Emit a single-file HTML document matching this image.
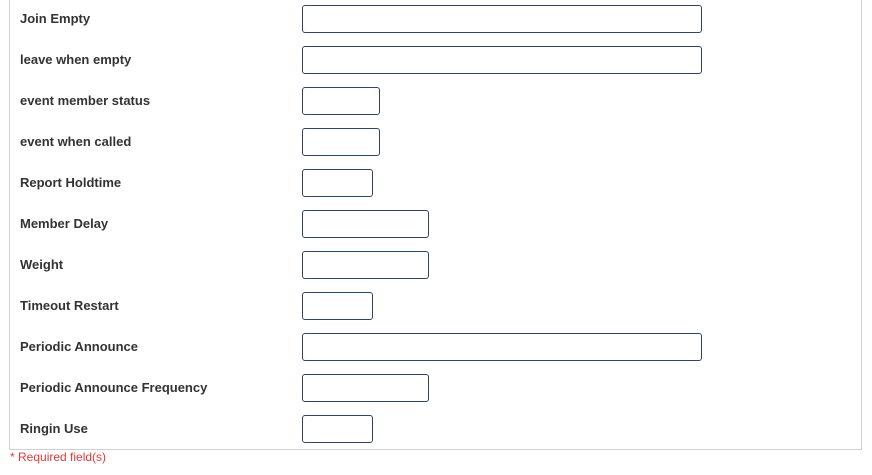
<!DOCTYPE html>
<html><head><meta charset="utf-8"><style>
html,body{margin:0;padding:0;background:#fff;width:872px;height:475px;overflow:hidden;font-family:"Liberation Sans",Arial,sans-serif}
.panel{position:absolute;left:9px;top:-2px;width:853px;height:452px;border:1px solid #d0d0d0;box-sizing:border-box}
.l{position:absolute;left:20px;font-size:13px;font-weight:bold;color:#333;line-height:16px}
.i{position:absolute;left:302px;height:28px;border:1px solid #2f4560;border-radius:3px;box-sizing:border-box;background:#fff}
.req{position:absolute;left:10px;top:450px;font-size:12px;color:#e03a3a;line-height:14px}
</style></head><body>
<div class="panel"></div>
<div class="l" style="top:11px">Join Empty</div><div class="i" style="top:5px;width:400px"></div>
<div class="l" style="top:52px">leave when empty</div><div class="i" style="top:46px;width:400px"></div>
<div class="l" style="top:93px">event member status</div><div class="i" style="top:87px;width:78px"></div>
<div class="l" style="top:134px">event when called</div><div class="i" style="top:128px;width:78px"></div>
<div class="l" style="top:175px">Report Holdtime</div><div class="i" style="top:169px;width:71px"></div>
<div class="l" style="top:216px">Member Delay</div><div class="i" style="top:210px;width:127px"></div>
<div class="l" style="top:257px">Weight</div><div class="i" style="top:251px;width:127px"></div>
<div class="l" style="top:298px">Timeout Restart</div><div class="i" style="top:292px;width:71px"></div>
<div class="l" style="top:339px">Periodic Announce</div><div class="i" style="top:333px;width:400px"></div>
<div class="l" style="top:380px">Periodic Announce Frequency</div><div class="i" style="top:374px;width:127px"></div>
<div class="l" style="top:421px">Ringin Use</div><div class="i" style="top:415px;width:71px"></div>
<div class="req">* Required field(s)</div>
</body></html>
